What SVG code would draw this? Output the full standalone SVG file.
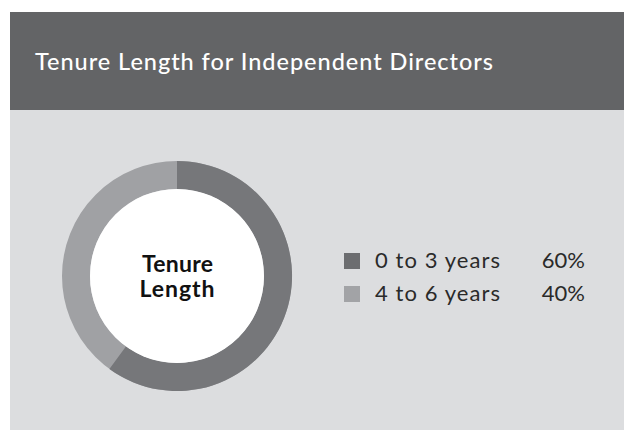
<svg xmlns="http://www.w3.org/2000/svg" width="624" height="430" viewBox="0 0 624 430">
<style>
.title{font-family:Lato,"Open Sans",sans-serif;font-size:23.5px;fill:#ffffff;font-weight:500}
.center{font-family:Lato,"Open Sans",sans-serif;font-size:23px;fill:#111111;font-weight:700;text-anchor:middle}
.leg{font-family:Lato,"Open Sans",sans-serif;font-size:22px;fill:#2a2a2a;font-weight:400}
</style>
<rect x="0" y="0" width="624" height="430" fill="#ffffff"/>
<g id="header">
<rect x="10" y="12" width="614" height="98" fill="#636466"/>
<text class="title" x="35" y="69.5" textLength="458" lengthAdjust="spacing">Tenure Length for Independent Directors</text>
</g>
<g id="body">
<rect x="10" y="110" width="614" height="320" fill="#dcdddf"/>
</g>
<g id="donut">
<circle cx="177" cy="276" r="101" fill="none" stroke="#a0a1a4" stroke-width="28"/>
<path d="M177 161 A115 115 0 1 1 109.4 369 L125.9 346.4 A87 87 0 1 0 177 189 Z" fill="#76777a"/>
<circle cx="177" cy="276" r="87" fill="#ffffff"/>
<text class="center" x="177.5" y="272.3" textLength="71" lengthAdjust="spacing">Tenure</text>
<text class="center" x="177" y="296.7" textLength="75" lengthAdjust="spacing">Length</text>
</g>
<g id="legend">
<rect x="344" y="253" width="16" height="16" fill="#6c6d70"/>
<text class="leg" x="375" y="267.5" textLength="125" lengthAdjust="spacing">0 to 3 years</text>
<text class="leg" x="541.7" y="267.5" textLength="43.3" lengthAdjust="spacing">60%</text>
<rect x="344" y="286" width="16" height="16" fill="#a2a3a6"/>
<text class="leg" x="375" y="301" textLength="125" lengthAdjust="spacing">4 to 6 years</text>
<text class="leg" x="541.7" y="301" textLength="43.3" lengthAdjust="spacing">40%</text>
</g>
</svg>
